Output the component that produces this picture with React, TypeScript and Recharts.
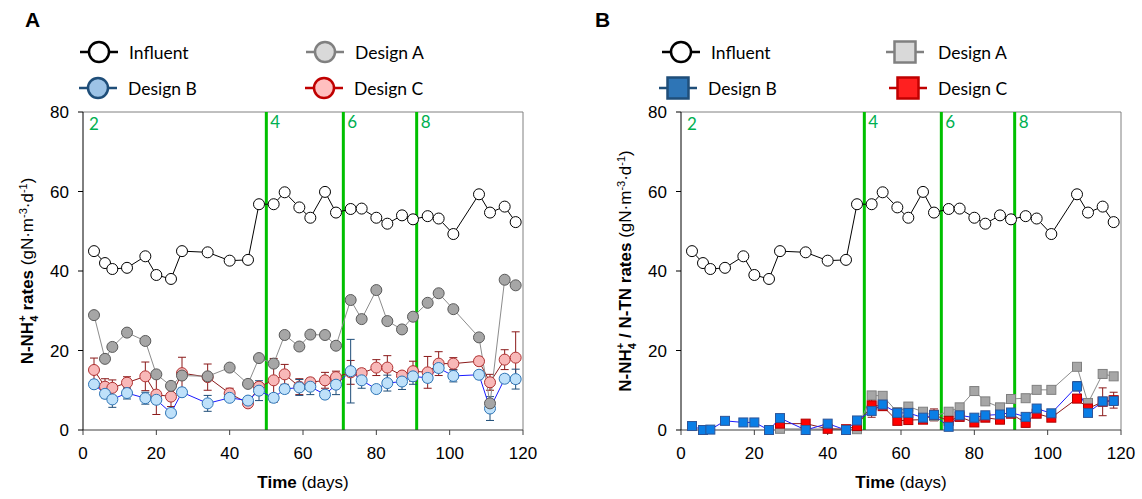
import React from 'react';
import { ComposedChart, Line, XAxis, YAxis, ReferenceLine, ErrorBar, Legend } from 'recharts';

// sampling days (shared by both panels)
const days = [3, 6, 8, 12, 17, 20, 24, 27, 34, 40, 45, 48, 52, 55, 59, 62, 66, 69, 73, 76, 80, 83, 87, 90, 94, 97, 101, 108, 111, 115, 118];

const influent = [45.0, 42.0, 40.5, 40.8, 43.7, 39.0, 38.0, 45.0, 44.7, 42.6, 42.8, 56.8, 56.8, 59.8, 56.0, 53.4, 59.9, 54.7, 55.6, 55.7, 53.4, 51.9, 54.0, 53.0, 53.8, 53.2, 49.3, 59.3, 54.7, 56.2, 52.3];

// panel A: N-NH4+ rates
const nhDesignA = [28.9, 17.9, 20.9, 24.5, 22.4, 14.0, 11.1, 13.7, 13.5, 15.7, 11.6, 18.1, 16.7, 23.9, 21.0, 24.0, 23.9, 21.2, 32.7, 27.9, 35.2, 27.4, 25.3, 28.5, 32.0, 34.4, 30.4, 23.3, 6.7, 37.8, 36.4];
const nhDesignB = [11.5, 9.1, 7.7, 9.3, 8.0, 7.6, 4.3, 9.5, 6.7, 8.1, 7.4, 9.9, 8.1, 10.3, 10.7, 10.9, 8.9, 11.4, 14.8, 12.5, 10.3, 11.8, 12.2, 13.5, 13.1, 15.6, 13.6, 13.9, 5.4, 12.9, 12.8];
const nhDesignBErr = [1, 1, 2, 1.5, 1.5, 1, 0.5, 1, 2, 0.5, 0.5, 2.5, 1, 1, 2, 2, 1, 2.5, 8, 2, 0.5, 2, 2, 2, 1, 1, 1.5, 1, 3, 1, 2.5];
const nhDesignC = [15.1, 10.9, 10.6, 11.9, 13.5, 8.9, 8.4, 14.3, 13.3, 9.2, 6.7, 10.9, 12.5, 14.0, 10.9, 12.0, 12.5, 13.3, 14.5, 14.3, 15.7, 15.7, 13.7, 14.8, 14.5, 16.7, 16.7, 17.3, 12.0, 17.7, 18.2];
const nhDesignCErr = [3, 2, 2, 1.5, 3.6, 5, 2.5, 4, 3.3, 1.3, 0.5, 1, 5.5, 2.5, 2, 1, 2, 1.5, 3, 1, 2, 3, 1, 2.5, 4, 3, 1.5, 1, 2, 2.5, 6.5];

// panel B: N-NH4+ / N-TN rates
const tnDesignA = [null, null, null, null, null, null, null, 0.3, null, null, null, 0.2, 8.7, 8.6, 4.5, 5.9, 4.6, 3.5, 4.6, 5.7, 9.8, 7.2, 5.7, 7.8, 8.0, 10.1, 10.1, 15.9, 6.8, 14.1, 13.5];
const tnDesignB = [1.0, 0, 0.1, 2.3, 1.9, 1.9, 0, 3.0, 0, 1.6, 0, 2.4, 4.8, 6.4, 4.3, 4.3, 3.1, 3.8, 0.8, 3.7, 3.1, 3.7, 3.9, 4.4, 3.3, 5.4, 4.2, 11.0, 4.3, 7.2, 7.3];
const tnDesignBErr = [0, 0, 0, 0, 0, 0, 0, 0, 0, 0, 0, 0, 0.5, 0.5, 0.5, 0.5, 0.5, 0.5, 0.5, 0.5, 0.5, 0.5, 0.5, 0.5, 0.5, 0.5, 0.5, 1.2, 0.5, 0.5, 0.5];
const tnDesignC = [null, null, null, null, null, null, null, 1.6, 1.6, 0.3, 0.2, 1.0, 6.2, 6.0, 2.3, 2.5, 2.6, 3.8, 2.3, 3.3, 1.9, 3.1, 2.6, 4.1, 1.8, 4.1, 3.1, 7.9, 5.4, 7.1, 7.5];
const tnDesignCErr = [null, null, null, null, null, null, null, 0.5, 0.8, 0.3, 0.2, 0.5, 3, 1, 0.5, 0.5, 0.5, 1.5, 0.5, 0.8, 0.5, 0.5, 1, 0.5, 1, 0.5, 0.5, 1, 1, 3.5, 2];

const phaseDays = [0, 50, 71, 91];
const phaseNames = ['2', '4', '6', '8'];
const xTicks = [0, 20, 40, 60, 80, 100, 120];
const yTicks = [0, 20, 40, 60, 80];

const dataA = days.map((d, i) => ({
  day: d, inf: influent[i], a: nhDesignA[i], b: nhDesignB[i], bErr: nhDesignBErr[i], c: nhDesignC[i], cErr: nhDesignCErr[i],
}));
const dataB = days.map((d, i) => ({
  day: d, inf: influent[i], a: tnDesignA[i], b: tnDesignB[i], bErr: tnDesignBErr[i], c: tnDesignC[i], cErr: tnDesignCErr[i],
}));

const AXIS_FONT = '"Liberation Sans", Arial, sans-serif';
const LEGEND_FONT = 'Lato, "Noto Sans", sans-serif';
const GREEN = '#00b050';

const squareDot = (fill: string, stroke: string) => (props: any) => {
  const { cx, cy, index } = props;
  if (cx == null || cy == null || Number.isNaN(cy)) return <g key={`e-${index}`} />;
  return <rect key={`s-${index}`} x={cx - 4.5} y={cy - 4.5} width={9} height={9} fill={fill} stroke={stroke} strokeWidth={1} />;
};

function YTitle({ viewBox, bx, withTN }: any) {
  const vb = viewBox || { x: 0, y: 112, width: 83, height: 318 };
  const x = vb.x + bx;
  const y = vb.y + vb.height / 2;
  return (
    <text x={x} y={y} transform={`rotate(-90, ${x}, ${y})`} textAnchor="middle" fontFamily={AXIS_FONT} fontSize={17} fill="#000">
      <tspan fontWeight="bold">N-NH</tspan>
      <tspan fontWeight="bold" fontSize={11} dy={5}>4</tspan>
      <tspan fontWeight="bold" fontSize={11} dx={-6} dy={-12}>+</tspan>
      <tspan fontWeight="bold" dy={7}>{withTN ? ' / N-TN rates ' : ' rates '}</tspan>
      <tspan>(gN·m</tspan>
      <tspan fontSize={11} dy={-6}>-3</tspan>
      <tspan dy={6}>·d</tspan>
      <tspan fontSize={11} dy={-6}>-1</tspan>
      <tspan dy={6}>)</tspan>
    </text>
  );
}

function XTitle({ viewBox }: any) {
  const vb = viewBox || { x: 83, y: 430, width: 440, height: 69 };
  return (
    <text x={vb.x + vb.width / 2} y={vb.y + 58} textAnchor="middle" fontFamily={AXIS_FONT} fontSize={17} fill="#000">
      <tspan fontWeight="bold">Time</tspan>
      <tspan> (days)</tspan>
    </text>
  );
}

type LegendItem = { name: string; mx: number; my: number; tx: number; shape: 'circle' | 'square'; fill: string; stroke: string };

function LegendBox({ title, items }: { title: string; items: LegendItem[] }) {
  return (
    <div style={{ position: 'relative', width: 560, height: 110 }}>
      <div style={{ position: 'absolute', left: 25, top: 8, fontFamily: AXIS_FONT, fontWeight: 'bold', fontSize: 21 }}>{title}</div>
      {items.map((it) => (
        <div key={it.name} style={{ position: 'absolute', left: it.mx - 20, top: it.my - 13, height: 26, display: 'flex', alignItems: 'center' }}>
          <svg width={40} height={26} style={{ display: 'block' }}>
            <line x1={1} y1={13} x2={39} y2={13} stroke={it.stroke} strokeWidth={2.5} />
            {it.shape === 'circle' ? (
              <circle cx={20} cy={13} r={10} fill={it.fill} stroke={it.stroke} strokeWidth={2.5} />
            ) : (
              <rect x={9.5} y={2.5} width={21} height={21} fill={it.fill} stroke={it.stroke} strokeWidth={2.5} />
            )}
          </svg>
          <span style={{ marginLeft: it.tx - it.mx - 20, fontFamily: LEGEND_FONT, fontSize: 17.5, color: '#000', whiteSpace: 'nowrap' }}>{it.name}</span>
        </div>
      ))}
    </div>
  );
}

const legendA: LegendItem[] = [
  { name: 'Influent', mx: 99, my: 52, tx: 129, shape: 'circle', fill: '#ffffff', stroke: '#000000' },
  { name: 'Design A', mx: 325, my: 52, tx: 355, shape: 'circle', fill: '#d9d9d9', stroke: '#808080' },
  { name: 'Design B', mx: 98, my: 88, tx: 128, shape: 'circle', fill: '#9dc3e6', stroke: '#1f4e79' },
  { name: 'Design C', mx: 324, my: 88, tx: 354, shape: 'circle', fill: '#ffbfbf', stroke: '#c00000' },
];
const legendB: LegendItem[] = [
  { name: 'Influent', mx: 111, my: 52, tx: 141, shape: 'circle', fill: '#ffffff', stroke: '#000000' },
  { name: 'Design A', mx: 335, my: 52, tx: 368, shape: 'square', fill: '#d9d9d9', stroke: '#808080' },
  { name: 'Design B', mx: 108, my: 88, tx: 138, shape: 'square', fill: '#2e75b6', stroke: '#1f4e79' },
  { name: 'Design C', mx: 338, my: 88, tx: 368, shape: 'square', fill: '#ff2020', stroke: '#c00000' },
];

function Panel({ data, width, right, yWidth, titleX, withTN, squares, title, legend }: any) {
  return (
    <ComposedChart width={width} height={499} data={data} margin={{ top: 112, right, bottom: 0, left: 0 }}>
      <XAxis
        dataKey="day" type="number" domain={[0, 120]} ticks={xTicks} height={69}
        tick={{ fontSize: 17, fill: '#000', fontFamily: AXIS_FONT }} tickSize={5} tickMargin={12}
        axisLine={{ stroke: '#404040' }} tickLine={{ stroke: '#404040' }}
        label={(p: any) => <XTitle viewBox={p.viewBox} />}
      />
      <YAxis
        type="number" domain={[0, 80]} ticks={yTicks} width={yWidth}
        tick={{ fontSize: 17, fill: '#000', fontFamily: AXIS_FONT }} tickSize={5} tickMargin={9}
        axisLine={{ stroke: '#000' }} tickLine={{ stroke: '#000' }}
        label={(p: any) => <YTitle viewBox={p.viewBox} bx={titleX} withTN={withTN} />}
      />
      <ReferenceLine y={80} stroke="#808080" strokeWidth={1} />
      <ReferenceLine x={120} stroke="#808080" strokeWidth={1} />
      {phaseDays.map((d, i) => (
        <ReferenceLine
          key={`ph-${d}`} x={d} stroke={i === 0 ? 'none' : '#00c000'} strokeWidth={3}
          label={{ value: phaseNames[i], position: 'insideTopLeft', offset: i === 0 ? 6 : 4, fill: GREEN, fontSize: 17, fontFamily: LEGEND_FONT }}
        />
      ))}
      <Line dataKey="inf" stroke="#000" strokeWidth={1} isAnimationActive={false}
        dot={{ r: 5.5, fill: '#fff', stroke: '#000', strokeWidth: 1 }} />
      {squares ? (
        <Line dataKey="a" stroke="#8c8c8c" strokeWidth={1} connectNulls isAnimationActive={false}
          dot={squareDot('#a6a6a6', '#7f7f7f')} />
      ) : null}
      <Line dataKey="c" stroke="#8b1a1a" strokeWidth={1} connectNulls isAnimationActive={false}
        dot={squares ? squareDot('#ff0000', '#b00000') : { r: 5.5, fill: '#f8b8b8', stroke: '#b03030', strokeWidth: 1 }}>
        <ErrorBar dataKey="cErr" width={4} stroke="#8b1a1a" strokeWidth={1} direction="y" />
      </Line>
      <Line dataKey="b" stroke="#1a1aff" strokeWidth={1} isAnimationActive={false}
        dot={squares ? squareDot('#0a7ee6', '#2f5597') : { r: 5.5, fill: '#bfe1fa', stroke: '#2e75b6', strokeWidth: 1 }}>
        <ErrorBar dataKey="bErr" width={4} stroke="#1f4e79" strokeWidth={1} direction="y" />
      </Line>
      {!squares ? (
        <Line dataKey="a" stroke="#8c8c8c" strokeWidth={1} isAnimationActive={false}
          dot={{ r: 5.5, fill: '#a6a6a6', stroke: '#5a5a5a', strokeWidth: 1 }} />
      ) : null}
      <Legend
        layout="vertical" align="center" verticalAlign="middle"
        wrapperStyle={{ top: 0, left: 0, width: 560, height: 110 }}
        content={() => <LegendBox title={title} items={legend} />}
      />
    </ComposedChart>
  );
}

export default function App() {
  return (
    <div style={{ position: 'absolute', left: 0, top: 0, width: 1142, height: 499, background: '#fff' }}>
      <div style={{ position: 'absolute', left: 0, top: 0 }}>
        <Panel data={dataA} width={570} right={47} yWidth={83} titleX={33} withTN={false} squares={false} title="A" legend={legendA} />
      </div>
      <div style={{ position: 'absolute', left: 570, top: 0 }}>
        <Panel data={dataB} width={572} right={21} yWidth={111} titleX={61} withTN squares title="B" legend={legendB} />
      </div>
    </div>
  );
}
